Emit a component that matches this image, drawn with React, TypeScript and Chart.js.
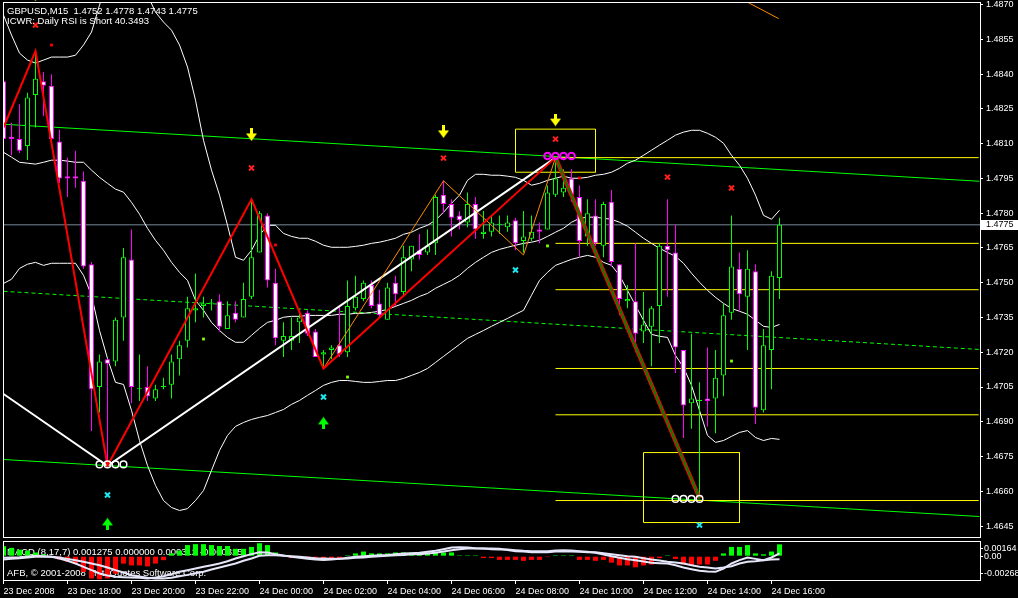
import React, { useEffect, useRef } from 'react';
import { Chart, registerables } from 'chart.js';

Chart.register(...registerables);

const FONT = '"Liberation Sans", Arial, sans-serif';

// ---- time axis ----
const TIME_TICKS = [0, 8, 16, 24, 32, 40, 48, 56, 64, 72, 80, 88, 96];
const TIME_LABELS = [
  '23 Dec 2008', '23 Dec 18:00', '23 Dec 20:00', '23 Dec 22:00', '24 Dec 00:00',
  '24 Dec 02:00', '24 Dec 04:00', '24 Dec 06:00', '24 Dec 08:00', '24 Dec 10:00',
  '24 Dec 12:00', '24 Dec 14:00', '24 Dec 16:00',
];
const PRICE_TICKS = [1.4870, 1.4855, 1.4840, 1.4825, 1.4810, 1.4795, 1.4780, 1.4765,
  1.4750, 1.4735, 1.4720, 1.4705, 1.4690, 1.4675, 1.4660, 1.4645];

// ---- GBPUSD M15 candles ----
const OPEN = [1.4837,1.4813,1.4812,1.4809,1.4831,1.4837,1.4835,1.4811,1.4796,1.4796,
  1.4794,1.4758,1.4705,1.4717,1.4716,1.4735,1.4760,1.4704,1.4705,1.4700,
  1.4705,1.4706,1.4717,1.4725,1.4738,1.4740,1.4741,1.4742,1.4730,1.4737,
  1.4735,1.4744,1.4763,1.4779,1.4750,1.4725,1.4725,1.4733,1.4737,1.4729,
  1.4719,1.4721,1.4723,1.4720,1.4739,1.4743,1.4749,1.4741,1.4734,1.4750,
  1.4746,1.4760,1.4764,1.4763,1.4767,1.4788,1.4784,1.4779,1.4776,1.4784,
  1.4771,1.4772,1.4775,1.4774,1.4777,1.4768,1.4769,1.4773,1.4773,1.4788,
  1.4789,1.4795,1.4787,1.4770,1.4779,1.4766,1.4785,1.4758,1.4742,1.4742,
  1.4729,1.4731,1.4740,1.4766,1.4763,1.4721,1.4698,1.4699,1.4700,1.4700,
  1.4710,1.4737,1.4756,1.4744,1.4755,1.4695,1.4721,1.4752];
const HIGH = [1.4838,1.4819,1.4827,1.4832,1.4850,1.4841,1.4840,1.4816,1.4804,1.4807,
  1.4798,1.4759,1.4719,1.4717,1.4735,1.4765,1.4773,1.4719,1.4714,1.4706,
  1.4709,1.4719,1.4725,1.4744,1.4754,1.4744,1.4743,1.4745,1.4742,1.4742,
  1.4750,1.4786,1.4781,1.4780,1.4756,1.4733,1.4735,1.4738,1.4738,1.4730,
  1.4721,1.4723,1.4740,1.4751,1.4753,1.4751,1.4751,1.4747,1.4750,1.4753,
  1.4766,1.4766,1.4771,1.4773,1.4788,1.4794,1.4786,1.4781,1.4789,1.4787,
  1.4781,1.4779,1.4779,1.4779,1.4778,1.4781,1.4779,1.4776,1.4792,1.4804,
  1.4799,1.4799,1.4792,1.4786,1.4786,1.4785,1.4790,1.4758,1.4749,1.4767,
  1.4746,1.4740,1.4767,1.4786,1.4775,1.4721,1.4728,1.4707,1.4722,1.4721,
  1.4741,1.4779,1.4763,1.4764,1.4758,1.4730,1.4755,1.4778];
const LOW = [1.4811,1.4805,1.4806,1.4803,1.4817,1.4822,1.4811,1.4793,1.4787,1.4791,
  1.4756,1.4686,1.4694,1.4671,1.4714,1.4725,1.4698,1.4699,1.4699,1.4699,
  1.4704,1.4700,1.4710,1.4722,1.4733,1.4735,1.4738,1.4729,1.4730,1.4733,
  1.4735,1.4743,1.4763,1.4748,1.4723,1.4718,1.4721,1.4724,1.4727,1.4718,
  1.4713,1.4717,1.4718,1.4718,1.4738,1.4742,1.4739,1.4735,1.4734,1.4740,
  1.4744,1.4755,1.4760,1.4762,1.4762,1.4780,1.4770,1.4773,1.4774,1.4769,
  1.4769,1.4770,1.4771,1.4772,1.4764,1.4763,1.4768,1.4767,1.4773,1.4787,
  1.4787,1.4785,1.4761,1.4766,1.4766,1.4761,1.4757,1.4736,1.4739,1.4720,
  1.4724,1.4714,1.4724,1.4744,1.4711,1.4683,1.4687,1.4657,1.4688,1.4685,
  1.4701,1.4734,1.4738,1.4721,1.4689,1.4694,1.4704,1.4743];
const CLOSE = [1.4812,1.4812,1.4807,1.4830,1.4838,1.4835,1.4812,1.4795,1.4795,1.4795,
  1.4757,1.4704,1.4716,1.4715,1.4734,1.4761,1.4705,1.4704,1.4701,1.4704,
  1.4705,1.4716,1.4723,1.4739,1.4739,1.4741,1.4741,1.4731,1.4736,1.4734,
  1.4743,1.4761,1.4780,1.4751,1.4726,1.4727,1.4727,1.4735,1.4728,1.4718,
  1.4720,1.4722,1.4719,1.4740,1.4744,1.4750,1.4740,1.4736,1.4748,1.4745,
  1.4761,1.4766,1.4762,1.4766,1.4787,1.4784,1.4778,1.4777,1.4784,1.4773,
  1.4772,1.4776,1.4775,1.4776,1.4767,1.4770,1.4772,1.4772,1.4789,1.4795,
  1.4791,1.4788,1.4768,1.4780,1.4767,1.4784,1.4759,1.4743,1.4743,1.4728,
  1.4732,1.4739,1.4766,1.4764,1.4722,1.4697,1.4700,1.4699,1.4699,1.4709,
  1.4736,1.4757,1.4745,1.4756,1.4696,1.4723,1.4753,1.4775];

// ---- Bollinger bands ----
const BB_UPPER = [1.48655,1.48569,1.48491,1.48461,1.48448,1.48461,1.48474,1.48474,1.48474,1.48482,
  1.48526,1.48582,1.48698,1.48806,1.48893,1.48936,1.48893,1.48828,1.48742,1.48668,
  1.48625,1.48590,1.48526,1.48431,1.48288,1.48115,1.47986,1.47878,1.47748,1.47610,
  1.47597,1.47640,1.47705,1.47748,1.47748,1.47713,1.47700,1.47692,1.47692,1.47679,
  1.47662,1.47653,1.47653,1.47653,1.47657,1.47662,1.47670,1.47675,1.47683,1.47692,
  1.47709,1.47718,1.47735,1.47748,1.47770,1.47804,1.47843,1.47878,1.47942,1.47968,
  1.47968,1.47964,1.47964,1.47960,1.47955,1.47942,1.47921,1.47929,1.47942,1.47951,
  1.47960,1.47951,1.47951,1.47955,1.47964,1.47968,1.47977,1.47994,1.48016,1.48029,
  1.48050,1.48072,1.48094,1.48115,1.48137,1.48150,1.48158,1.48158,1.48145,1.48128,
  1.48102,1.48050,1.48007,1.47951,1.47878,1.47791,1.47774,1.47813];
const BB_MIDDLE = [1.48063,1.48042,1.48020,1.48016,1.48012,1.48020,1.48029,1.48029,1.48025,1.48020,
  1.48020,1.47986,1.47955,1.47929,1.47904,1.47891,1.47847,1.47796,1.47735,1.47683,
  1.47640,1.47588,1.47545,1.47510,1.47424,1.47381,1.47329,1.47294,1.47264,1.47243,
  1.47243,1.47273,1.47303,1.47329,1.47338,1.47351,1.47355,1.47355,1.47359,1.47359,
  1.47359,1.47359,1.47364,1.47364,1.47368,1.47368,1.47372,1.47377,1.47385,1.47398,
  1.47411,1.47424,1.47441,1.47454,1.47476,1.47493,1.47510,1.47532,1.47562,1.47588,
  1.47610,1.47631,1.47644,1.47653,1.47662,1.47670,1.47675,1.47683,1.47700,1.47718,
  1.47735,1.47761,1.47778,1.47783,1.47783,1.47778,1.47774,1.47761,1.47744,1.47718,
  1.47692,1.47670,1.47649,1.47631,1.47614,1.47584,1.47541,1.47502,1.47467,1.47437,
  1.47411,1.47389,1.47377,1.47364,1.47338,1.47312,1.47307,1.47320];
const BB_LOWER = [1.47497,1.47515,1.47562,1.47580,1.47588,1.47575,1.47584,1.47584,1.47584,1.47584,
  1.47532,1.47446,1.47294,1.47173,1.47070,1.47061,1.46949,1.46819,1.46711,1.46625,
  1.46560,1.46530,1.46517,1.46525,1.46560,1.46603,1.46690,1.46776,1.46841,1.46880,
  1.46897,1.46910,1.46919,1.46927,1.46940,1.46953,1.46975,1.46992,1.47014,1.47035,
  1.47057,1.47070,1.47078,1.47078,1.47074,1.47070,1.47070,1.47074,1.47078,1.47078,
  1.47087,1.47100,1.47113,1.47130,1.47156,1.47182,1.47208,1.47234,1.47260,1.47277,
  1.47294,1.47312,1.47329,1.47346,1.47364,1.47381,1.47446,1.47510,1.47545,1.47575,
  1.47588,1.47601,1.47610,1.47618,1.47610,1.47588,1.47575,1.47532,1.47467,1.47402,
  1.47338,1.47277,1.47269,1.47264,1.47186,1.47135,1.47057,1.46949,1.46841,1.46811,
  1.46819,1.46837,1.46854,1.46862,1.46832,1.46819,1.46828,1.46824];

// ---- MACD (8,17,7) ----
const MACD_HIST = [0.00108,0.0009,0.0007,0.0006,0.0004,0.0002,-0.0001,-0.00036,-0.0006,-0.0008,
  -0.0017,-0.0024,-0.0025,-0.0024,-0.0019,-0.0008,-0.001,-0.001,-0.0011,-0.0008,
  -0.00043,0.0003,0.0006,0.0012,0.0013,0.0013,0.0012,0.0011,0.0011,0.0008,
  0.0008,0.001,0.0014,0.0012,0.0004,0,-0.0002,0,-0.0002,-0.0002,
  -0.0002,-0.0002,-0.0002,0.0001,0.0003,0.0005,0.0003,0.0003,0.0003,0.0004,
  0.0004,0.0004,0.0004,0.0004,0.0004,0.0004,0.0004,0.0001,0.0001,0.0001,
  -0.0002,-0.0002,-0.0004,-0.0004,-0.0004,-0.0005,-0.0004,-0.0004,-0.0001,0.0001,
  0.0001,0.0001,-0.0004,-0.0004,-0.0005,-0.0004,-0.0007,-0.001,-0.001,-0.0012,
  -0.001,-0.0009,-0.0002,0.0001,-0.0003,-0.0009,-0.001,-0.0009,-0.0009,-0.0005,
  0.0003,0.001,0.001,0.0012,0.0003,0.0002,0.0005,0.00128];
const MACD_MAIN = [-0.00018,-0.00014,-0.00011,-0.00004,0.00004,0,-0.00007,-0.00025,-0.0005,-0.00079,
  -0.00115,-0.00151,-0.00187,-0.00209,-0.00223,-0.00227,-0.0023,-0.00234,-0.00241,-0.0023,
  -0.00216,-0.00194,-0.00169,-0.00151,-0.00133,-0.00115,-0.00097,-0.00079,-0.00054,-0.00025,
  0,0.00022,0.00043,0.0004,0.00022,0.00007,-0.00007,-0.00018,-0.00029,-0.00036,
  -0.0004,-0.00036,-0.00029,-0.00018,-0.00007,0,0.00004,0.00011,0.00014,0.00022,
  0.00029,0.00032,0.00036,0.00047,0.00058,0.00076,0.00094,0.00097,0.00094,0.00086,
  0.00083,0.00076,0.00072,0.00072,0.00065,0.00058,0.00054,0.00054,0.00054,0.00061,
  0.00065,0.00061,0.00054,0.00047,0.00036,0.00018,0,-0.00018,-0.00032,-0.00043,
  -0.00058,-0.00072,-0.00076,-0.00079,-0.00097,-0.00122,-0.0014,-0.00158,-0.00166,-0.00169,
  -0.00133,-0.00079,-0.00043,-0.00014,-0.00029,-0.00043,-0.00014,0.00031];
const MACD_SIGNAL = [-0.00036,-0.00029,-0.00022,-0.00014,-0.00007,-0.00007,-0.00007,-0.00014,-0.00029,-0.00043,
  -0.00061,-0.00079,-0.00097,-0.00122,-0.00151,-0.00176,-0.00205,-0.0022,-0.00234,-0.00241,
  -0.00241,-0.00234,-0.00216,-0.00202,-0.00184,-0.00169,-0.00144,-0.00122,-0.00101,-0.00079,
  -0.0005,-0.00025,0.00004,0.00011,0.00011,0.00004,0,-0.00007,-0.00014,-0.00022,
  -0.00025,-0.00029,-0.00029,-0.00025,-0.00018,-0.00014,-0.00007,0,0.00004,0.00011,
  0.00014,0.00022,0.00022,0.00029,0.00036,0.0005,0.00065,0.00076,0.00083,0.00083,
  0.00083,0.00083,0.00079,0.00068,0.00054,0.0005,0.00043,0.00043,0.00043,0.0005,
  0.00054,0.0005,0.00047,0.00043,0.00043,0.00032,0.00022,0.00011,0,-0.00007,
  -0.00022,-0.00036,-0.00047,-0.00061,-0.00068,-0.00079,-0.00097,-0.00115,-0.00122,-0.00133,
  -0.00122,-0.00108,-0.00079,-0.00061,-0.00054,-0.00043,-0.00036,-0.00033];
const MACD_TICK_VALUES = [0.00088, 0, -0.00192];
const MACD_AXIS_LABELS = ['0.00164', '0.00', '-0.00268'];
const MACD_TEXT = 'MACD (8,17,7) 0.001275 0.000000 0.000312 -0.000325';
const COPYRIGHT_TEXT = 'AFB, \u00a9 2001-2008 MetaQuotes Software Corp.';
const RSI_TEXT = 'ICWR: Daily RSI is Short 40.3493';

// ---- drawn objects ----
const RED_ZZ_BARS = [0, 4, 13, 31, 40, 69];
const RED_ZZ_PRICES = [1.4817, 1.4850, 1.4671, 1.4786, 1.4713, 1.4804];
const WHITE_ZZ_BARS = [0, 13, 69];
const WHITE_ZZ_PRICES = [1.4702, 1.4671, 1.4804];
const ORANGE_ZZ_BARS = [40, 55, 65, 69];
const ORANGE_ZZ_PRICES = [1.4713, 1.4794, 1.4762, 1.4804];
const ORANGE_TOP_BARS = [92.5, 96.9];
const ORANGE_TOP_PRICES = [1.4872, 1.4864];
const DIAG_BARS = [69, 87];
const DIAG_PRICES = [1.4804, 1.4657];
const CHANNEL_BARS = [0, 122];
const CHANNEL_TOP = [1.48184, 1.47938];
const CHANNEL_MID = [1.47463, 1.47212];
const CHANNEL_BOTTOM = [1.46737, 1.46491];
const FIB_BARS = [69, 121.9];
const FIB_LEVELS = [1.4804, 1.4767, 1.4747, 1.4713, 1.4693, 1.4656];
const TOP_BOX_BARS = [64, 74];
const TOP_BOX_PRICES = [1.48163, 1.47977];
const BOTTOM_BOX_BARS = [80, 92];
const BOTTOM_BOX_PRICES = [1.46767, 1.46465];
const RED_X_BARS = [4, 31, 55, 69, 83, 91];
const RED_X_PRICES = [1.48612, 1.47995, 1.48038, 1.48120, 1.47956, 1.47909];
const CYAN_X_BARS = [13, 40, 64, 87];
const CYAN_X_PRICES = [1.46584, 1.47007, 1.47555, 1.46454];
const DOWN_ARROW_BARS = [4, 31, 55, 69];
const DOWN_ARROW_PRICES = [1.48742, 1.48138, 1.48151, 1.48202];
const UP_ARROW_BARS = [13, 40];
const UP_ARROW_PRICES = [1.46459, 1.46895];
const TOP_CIRCLE_BARS = [68, 69, 70, 71];
const TOP_CIRCLE_PRICES = [1.48047, 1.48047, 1.48047, 1.48047];
const LOW_CIRCLE_BARS = [12, 13, 14, 15, 84, 85, 86, 87];
const LOW_CIRCLE_PRICES = [1.46716, 1.46716, 1.46716, 1.46716, 1.46567, 1.46567, 1.46567, 1.46567];
const RED_DOT_BARS = [6, 34, 72];
const RED_DOT_PRICES = [1.48526, 1.47663, 1.47952];
const GREEN_DOT_BARS = [25, 43, 68, 91];
const GREEN_DOT_PRICES = [1.47257, 1.47093, 1.47659, 1.47162];

// axis limits
const X_MIN = -0.0625;
const X_MAX = 122.0625;
const P_MAX = 1.487117;
const P_MIN = 1.463983;
const M_MAX = 0.00164;
const M_MIN = -0.00268;

const GREEN = '#00ff00';
const MAGENTA = '#ff00ff';

const pts = (bars: number[], vals: number[]) => bars.map((b, i) => ({ x: b, y: vals[i] }));
const box = (bars: number[], p: number[]) => [
  { x: bars[0], y: p[0] }, { x: bars[1], y: p[0] }, { x: bars[1], y: p[1] },
  { x: bars[0], y: p[1] }, { x: bars[0], y: p[0] },
];

function makeArrow(color: string, up: boolean): HTMLCanvasElement {
  const c = document.createElement('canvas');
  c.width = 11; c.height = 13;
  const g = c.getContext('2d') as CanvasRenderingContext2D;
  g.fillStyle = color;
  if (up) { g.translate(0, 13); g.scale(1, -1); }
  g.fillRect(4, 0, 3, 7);
  g.beginPath();
  g.moveTo(0, 5); g.lineTo(11, 5); g.lineTo(5.5, 12.5); g.closePath();
  g.fill();
  return c;
}

const lineDs = (data: any[], color: string, width: number, order: number, extra: any = {}) => ({
  type: 'line', data, borderColor: color, borderWidth: width, pointRadius: 0,
  fill: false, tension: 0, order, ...extra,
});

export default function App() {
  const mainRef = useRef<HTMLCanvasElement>(null);
  const macdRef = useRef<HTMLCanvasElement>(null);

  useEffect(() => {
    Chart.defaults.font.family = FONT;
    const idx = OPEN.map((_, i) => i);
    const bull = idx.map((i) => CLOSE[i] >= OPEN[i]);
    const last = CLOSE.length - 1;
    const downArrow = makeArrow('#ffff00', false);
    const upArrow = makeArrow('#00ff00', true);

    const mainDecor = {
      id: 'mainDecor',
      afterDraw(chart: any) {
        const { ctx, chartArea: a, scales } = chart;
        ctx.save();
        ctx.strokeStyle = '#ffffff';
        ctx.lineWidth = 1;
        ctx.strokeRect(a.left + 0.5, a.top + 0.5, a.right - a.left, a.bottom - a.top - 1);
        ctx.fillStyle = '#ffffff';
        ctx.font = `9.5px ${FONT}`;
        ctx.textBaseline = 'alphabetic';
        const head = `GBPUSD,M15  ${OPEN[last].toFixed(4)} ${HIGH[last].toFixed(4)} ${LOW[last].toFixed(4)} ${CLOSE[last].toFixed(4)}`;
        ctx.fillText(head, 7, 14);
        ctx.fillText(RSI_TEXT, 7, 24);
        const y = scales.y.getPixelForValue(CLOSE[last]);
        ctx.fillRect(a.right + 1, Math.round(y) - 5, 40, 10);
        ctx.fillStyle = '#000000';
        ctx.font = `9px ${FONT}`;
        ctx.textBaseline = 'middle';
        ctx.fillText(CLOSE[last].toFixed(4), a.right + 6, y);
        ctx.restore();
      },
    };

    const mainChart = new Chart(mainRef.current as HTMLCanvasElement, {
      type: 'bar',
      data: {
        datasets: [
          lineDs([{ x: X_MIN, y: CLOSE[last] }, { x: X_MAX, y: CLOSE[last] }], '#778899', 1, 100),
          lineDs(pts(CHANNEL_BARS, CHANNEL_TOP), GREEN, 1, 96),
          lineDs(pts(CHANNEL_BARS, CHANNEL_MID), GREEN, 1, 96, { borderDash: [4, 3] }),
          lineDs(pts(CHANNEL_BARS, CHANNEL_BOTTOM), GREEN, 1, 96),
          ...FIB_LEVELS.map((lv) => lineDs([{ x: FIB_BARS[0], y: lv }, { x: FIB_BARS[1], y: lv }], '#ffff00', 1, 92)),
          lineDs(box(TOP_BOX_BARS, TOP_BOX_PRICES), '#ffff00', 1, 90),
          lineDs(box(BOTTOM_BOX_BARS, BOTTOM_BOX_PRICES), '#ffff00', 1, 90),
          lineDs(idx.map((i) => ({ x: i, y: BB_UPPER[i] })), '#ffffff', 1, 85),
          lineDs(idx.map((i) => ({ x: i, y: BB_MIDDLE[i] })), '#ffffff', 1, 85),
          lineDs(idx.map((i) => ({ x: i, y: BB_LOWER[i] })), '#ffffff', 1, 85),
          {
            type: 'bar', order: 80, grouped: false, barThickness: 1, borderWidth: 0, inflateAmount: 0,
            data: idx.map((i) => ({ x: i, y: [LOW[i], HIGH[i]] })),
            backgroundColor: idx.map((i) => (bull[i] ? GREEN : MAGENTA)),
          },
          {
            type: 'bar', order: 75, grouped: false, barThickness: 5, borderWidth: 1, inflateAmount: 0,
            borderSkipped: false, minBarLength: 1,
            data: idx.map((i) => ({ x: i, y: [OPEN[i], CLOSE[i]] })),
            backgroundColor: idx.map((i) => (bull[i] ? '#000000' : '#ffffff')),
            borderColor: idx.map((i) => (bull[i] ? GREEN : MAGENTA)),
          },
          lineDs(pts(WHITE_ZZ_BARS, WHITE_ZZ_PRICES), '#ffffff', 2, 62),
          lineDs(pts(ORANGE_ZZ_BARS, ORANGE_ZZ_PRICES), '#ff8c00', 1, 61),
          lineDs(pts(ORANGE_TOP_BARS, ORANGE_TOP_PRICES), '#ff8c00', 1, 61),
          lineDs(pts(RED_ZZ_BARS, RED_ZZ_PRICES), '#ff0000', 2, 55),
          lineDs(pts(DIAG_BARS, DIAG_PRICES), '#ff0000', 4, 52),
          lineDs(pts(DIAG_BARS, DIAG_PRICES), '#008000', 2, 51),
          {
            type: 'scatter', order: 40, data: pts(TOP_CIRCLE_BARS, TOP_CIRCLE_PRICES),
            pointStyle: 'circle', pointRadius: 3.3, pointBorderWidth: 2,
            pointBorderColor: MAGENTA, borderColor: MAGENTA, pointBackgroundColor: 'rgba(0,0,0,0)', backgroundColor: 'rgba(0,0,0,0)',
          },
          {
            type: 'scatter', order: 40, data: pts(LOW_CIRCLE_BARS, LOW_CIRCLE_PRICES),
            pointStyle: 'circle', pointRadius: 3.3, pointBorderWidth: 1.5,
            pointBorderColor: '#ffffff', borderColor: '#ffffff', pointBackgroundColor: 'rgba(0,0,0,0)', backgroundColor: 'rgba(0,0,0,0)',
          },
          {
            type: 'scatter', order: 30, data: pts(RED_X_BARS, RED_X_PRICES),
            pointStyle: 'crossRot', pointRadius: 3.5, pointBorderWidth: 2,
            pointBorderColor: '#ff2020', borderColor: '#ff2020',
          },
          {
            type: 'scatter', order: 30, data: pts(CYAN_X_BARS, CYAN_X_PRICES),
            pointStyle: 'crossRot', pointRadius: 3.5, pointBorderWidth: 2,
            pointBorderColor: '#20e8f0', borderColor: '#20e8f0',
          },
          {
            type: 'scatter', order: 30, data: pts(RED_DOT_BARS, RED_DOT_PRICES),
            pointStyle: 'rect', pointRadius: 2, pointBorderWidth: 0,
            pointBackgroundColor: '#ff0000', backgroundColor: '#ff0000',
          },
          {
            type: 'scatter', order: 30, data: pts(GREEN_DOT_BARS, GREEN_DOT_PRICES),
            pointStyle: 'rect', pointRadius: 2, pointBorderWidth: 0,
            pointBackgroundColor: '#7fff00', backgroundColor: '#7fff00',
          },
          {
            type: 'scatter', order: 30, clip: false, data: pts(DOWN_ARROW_BARS, DOWN_ARROW_PRICES),
            pointStyle: downArrow, pointRadius: 10,
          },
          {
            type: 'scatter', order: 30, data: pts(UP_ARROW_BARS, UP_ARROW_PRICES),
            pointStyle: upArrow, pointRadius: 10,
          },
        ] as any,
      },
      options: {
        responsive: false,
        maintainAspectRatio: false,
        animation: false,
        devicePixelRatio: 1,
        events: [],
        layout: { autoPadding: false, padding: { left: 3, top: 2, right: 0, bottom: 1 } },
        plugins: { legend: { display: false }, tooltip: { enabled: false }, title: { display: false } },
        scales: {
          x: { type: 'linear', display: false, min: X_MIN, max: X_MAX, offset: false },
          y: {
            type: 'linear', position: 'right', min: P_MIN, max: P_MAX,
            afterBuildTicks: (s: any) => { s.ticks = PRICE_TICKS.map((v) => ({ value: v })); },
            afterFit: (s: any) => { s.width = 38; s.paddingTop = 0; s.paddingBottom = 0; },
            ticks: {
              color: '#ffffff', font: { family: FONT, size: 9 }, padding: 3, autoSkip: false,
              callback: (v: any) => Number(v).toFixed(4),
            },
            grid: { drawOnChartArea: false, drawTicks: true, tickLength: 3, color: '#ffffff' },
            border: { display: false },
          },
        },
      } as any,
      plugins: [mainDecor],
    });

    const macdDecor = {
      id: 'macdDecor',
      beforeDatasetsDraw(chart: any) {
        const { ctx } = chart;
        ctx.save();
        ctx.fillStyle = '#ffffff';
        ctx.font = `9.5px ${FONT}`;
        ctx.textBaseline = 'alphabetic';
        ctx.fillText(MACD_TEXT, 7, 15.5);
        ctx.fillText(COPYRIGHT_TEXT, 7, 37);
        ctx.restore();
      },
      afterDraw(chart: any) {
        const { ctx, chartArea: a } = chart;
        ctx.save();
        ctx.strokeStyle = '#ffffff';
        ctx.lineWidth = 1;
        ctx.strokeRect(a.left + 0.5, a.top + 0.5, a.right - a.left, a.bottom - a.top - 1);
        ctx.restore();
      },
    };

    const macdChart = new Chart(macdRef.current as HTMLCanvasElement, {
      type: 'bar',
      data: {
        datasets: [
          {
            type: 'bar', order: 10, grouped: false, barThickness: 5, borderWidth: 0, inflateAmount: 0,
            data: idx.map((i) => ({ x: i, y: MACD_HIST[i] })),
            backgroundColor: idx.map((i) => (MACD_HIST[i] >= 0 ? GREEN : '#ff0000')),
          },
          lineDs(idx.map((i) => ({ x: i, y: MACD_SIGNAL[i] })), '#e6e6fa', 2, 5),
          lineDs(idx.map((i) => ({ x: i, y: MACD_MAIN[i] })), '#e6e6fa', 2, 4),
        ] as any,
      },
      options: {
        responsive: false,
        maintainAspectRatio: false,
        animation: false,
        devicePixelRatio: 1,
        events: [],
        layout: { autoPadding: false, padding: { left: 3, top: 2, right: 0, bottom: 0 } },
        plugins: { legend: { display: false }, tooltip: { enabled: false }, title: { display: false } },
        scales: {
          x: {
            type: 'linear', min: X_MIN, max: X_MAX, offset: false, position: 'bottom',
            afterBuildTicks: (s: any) => { s.ticks = TIME_TICKS.map((v) => ({ value: v })); },
            afterFit: (s: any) => { s.height = 17; s.paddingLeft = 0; s.paddingRight = 0; },
            ticks: {
              color: '#ffffff', font: { family: FONT, size: 9 }, padding: 2, align: 'start',
              autoSkip: false, maxRotation: 0, minRotation: 0,
              callback: (_v: any, i: number) => TIME_LABELS[i],
            },
            grid: { drawOnChartArea: false, drawTicks: true, tickLength: 3, color: '#ffffff', offset: false },
            border: { display: false },
          },
          y: {
            type: 'linear', position: 'right', min: M_MIN, max: M_MAX,
            afterBuildTicks: (s: any) => { s.ticks = MACD_TICK_VALUES.map((v) => ({ value: v })); },
            afterFit: (s: any) => { s.width = 38; s.paddingTop = 0; s.paddingBottom = 0; },
            ticks: {
              color: '#ffffff', font: { family: FONT, size: 9 }, padding: 1, autoSkip: false,
              callback: (_v: any, i: number) => MACD_AXIS_LABELS[i],
            },
            grid: { drawOnChartArea: false, drawTicks: true, tickLength: 3, color: '#ffffff' },
            border: { display: false },
          },
        },
      } as any,
      plugins: [macdDecor],
    });

    return () => {
      mainChart.destroy();
      macdChart.destroy();
    };
  }, []);

  return (
    <div style={{ position: 'fixed', left: 0, top: 0, width: 1018, height: 598, background: '#000', overflow: 'hidden' }}>
      <canvas ref={mainRef} width={1018} height={539}
        style={{ position: 'absolute', left: 0, top: 0, width: 1018, height: 539 }} />
      <canvas ref={macdRef} width={1018} height={59}
        style={{ position: 'absolute', left: 0, top: 539, width: 1018, height: 59 }} />
    </div>
  );
}
